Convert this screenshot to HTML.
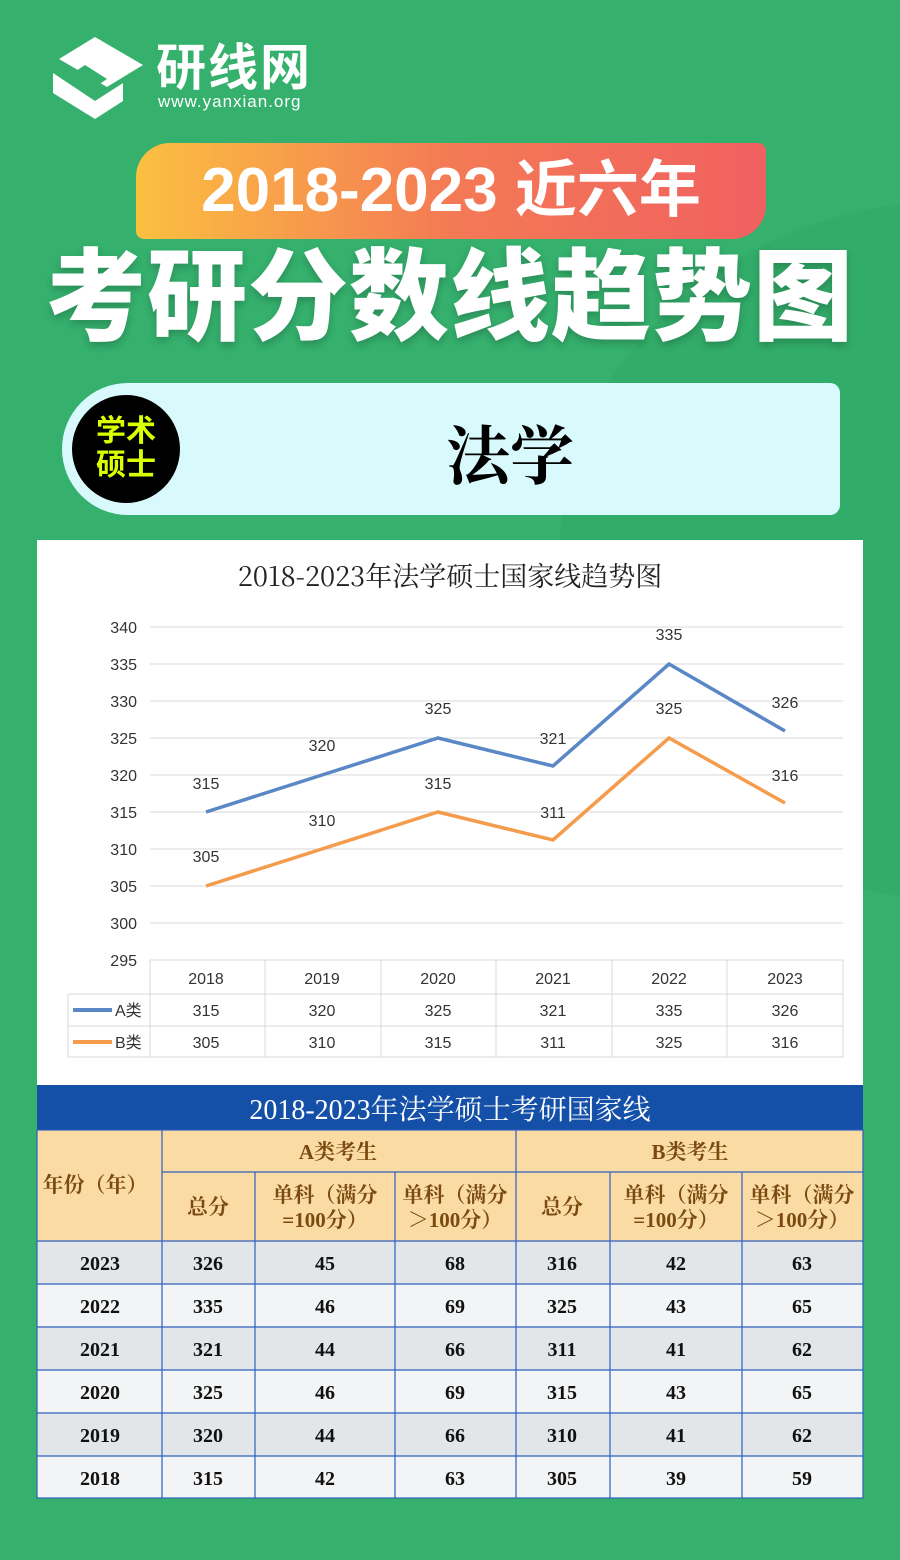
<!DOCTYPE html>
<html><head><meta charset="utf-8"><style>
body{margin:0;width:900px;height:1560px;background:#35b06d;position:relative;overflow:hidden;font-family:"Liberation Sans","Noto Sans CJK SC",sans-serif}
.abs{position:absolute}
</style></head><body>
<div class="abs" style="left:560px;top:200px;width:800px;height:700px;border-radius:50%;background:#2ea864;opacity:.45"></div>
<!-- logo -->
<svg class="abs" style="left:45px;top:35px" width="100" height="85" viewBox="0 0 100 85">
<polygon points="50,2 98,30 62,52 14,24" fill="#fff"/>
<polygon points="8,38 8,58 50,84 78,66 78,48 50,66" fill="#fff"/>
<polygon points="40,30 62,44 50,52 28,38" fill="#35b06d"/>
</svg>
<div class="abs" style="left:156px;top:38px;color:#fff;font-size:50px;font-weight:bold;letter-spacing:2px;line-height:60px">研线网</div>
<div class="abs" style="left:158px;top:92px;color:#fff;font-size:17px;letter-spacing:1px">www.yanxian.org</div>
<!-- orange banner -->
<div class="abs" style="left:136px;top:143px;width:630px;height:96px;border-radius:34px 8px 34px 8px;background:linear-gradient(90deg,#fbc040,#f47a55,#f06060)"></div>
<div class="abs" style="left:136px;top:143px;width:630px;height:96px;line-height:96px;text-align:center;color:#fff;font-size:62px;font-weight:bold">2018-2023 近六年</div>
<div class="abs" style="left:0;top:236px;width:900px;text-align:center;color:#fff;font-size:100px;font-weight:900;line-height:124px;letter-spacing:1px;text-shadow:0 4px 8px rgba(0,0,0,.2)">考研分数线趋势图</div>
<!-- subject bar -->
<div class="abs" style="left:62px;top:383px;width:778px;height:132px;background:#d9fafd;border-radius:66px 10px 10px 66px"></div>
<div class="abs" style="left:72px;top:395px;width:108px;height:108px;border-radius:50%;background:#000;color:#d9ff00;font-size:30px;font-weight:bold;line-height:34px;text-align:center;padding-top:20px;box-sizing:border-box">学术<br>硕士</div>
<div class="abs" style="left:300px;top:412px;width:420px;text-align:center;font-family:'Noto Serif CJK SC',serif;font-size:64px;font-weight:bold;line-height:80px;color:#000">法学</div>
<!-- chart -->
<svg class="abs" style="left:37px;top:540px" width="826" height="545" viewBox="37 540 826 545">
<rect x="37" y="540" width="826" height="545" fill="#fff"/>
<text x="450" y="586" text-anchor="middle" font-family="Noto Serif CJK SC,serif" font-size="27" fill="#222">2018-2023年法学硕士国家线趋势图</text>
<g stroke="#d9d9d9" stroke-width="1">
<line x1="150" x2="843" y1="627" y2="627"/><line x1="150" x2="843" y1="664" y2="664"/><line x1="150" x2="843" y1="701" y2="701"/><line x1="150" x2="843" y1="738" y2="738"/><line x1="150" x2="843" y1="775" y2="775"/><line x1="150" x2="843" y1="812" y2="812"/><line x1="150" x2="843" y1="849" y2="849"/><line x1="150" x2="843" y1="886" y2="886"/><line x1="150" x2="843" y1="923" y2="923"/>
<line x1="150" x2="843" y1="960" y2="960"/><line x1="68" x2="843" y1="994" y2="994"/><line x1="68" x2="843" y1="1026" y2="1026"/><line x1="68" x2="843" y1="1057" y2="1057"/>
<line x1="68" x2="68" y1="994" y2="1057"/><line x1="150" x2="150" y1="960" y2="1057"/><line x1="265" x2="265" y1="960" y2="1057"/><line x1="381" x2="381" y1="960" y2="1057"/><line x1="496" x2="496" y1="960" y2="1057"/><line x1="612" x2="612" y1="960" y2="1057"/><line x1="727" x2="727" y1="960" y2="1057"/><line x1="843" x2="843" y1="960" y2="1057"/>
</g>
<g font-size="16" fill="#333" text-anchor="end">
<text x="137" y="633">340</text><text x="137" y="670">335</text><text x="137" y="707">330</text><text x="137" y="744">325</text><text x="137" y="781">320</text><text x="137" y="818">315</text><text x="137" y="855">310</text><text x="137" y="892">305</text><text x="137" y="929">300</text><text x="137" y="966">295</text>
</g>
<polyline points="206,812 322,775 438,738 553,766 669,664 785,731" fill="none" stroke="#5a87c6" stroke-width="3.5"/>
<polyline points="206,886 322,849 438,812 553,840 669,738 785,803" fill="none" stroke="#f59b4c" stroke-width="3.5"/>
<g font-size="16" fill="#333" text-anchor="middle">
<text x="206" y="789">315</text><text x="322" y="751">320</text><text x="438" y="714">325</text><text x="553" y="744">321</text><text x="669" y="640">335</text><text x="785" y="708">326</text>
<text x="206" y="862">305</text><text x="322" y="826">310</text><text x="438" y="789">315</text><text x="553" y="818">311</text><text x="669" y="714">325</text><text x="785" y="781">316</text>
<text x="206" y="984">2018</text><text x="322" y="984">2019</text><text x="438" y="984">2020</text><text x="553" y="984">2021</text><text x="669" y="984">2022</text><text x="785" y="984">2023</text>
<text x="206" y="1016">315</text><text x="322" y="1016">320</text><text x="438" y="1016">325</text><text x="553" y="1016">321</text><text x="669" y="1016">335</text><text x="785" y="1016">326</text>
<text x="206" y="1048">305</text><text x="322" y="1048">310</text><text x="438" y="1048">315</text><text x="553" y="1048">311</text><text x="669" y="1048">325</text><text x="785" y="1048">316</text>
</g>
<line x1="73" x2="112" y1="1010" y2="1010" stroke="#5a87c6" stroke-width="4"/>
<line x1="73" x2="112" y1="1042" y2="1042" stroke="#f59b4c" stroke-width="4"/>
<text x="115" y="1016" font-size="16" fill="#333">A类</text>
<text x="115" y="1048" font-size="16" fill="#333">B类</text>
</svg>
<!-- table -->
<svg class="abs" style="left:0;top:1085px" width="900" height="420" viewBox="0 1085 900 420" font-family="Liberation Serif,Noto Serif CJK SC,serif">
<rect x="37" y="1085" width="826" height="45" fill="#1450a8"/>
<text x="450" y="1119" text-anchor="middle" font-size="28" fill="#fff">2018-2023年法学硕士考研国家线</text>
<rect x="37" y="1130" width="826" height="111" fill="#fbdba4"/>
<g fill="#e3e6e9"><rect x="37" y="1241" width="826" height="43"/><rect x="37" y="1327" width="826" height="43"/><rect x="37" y="1413" width="826" height="43"/></g>
<g fill="#f2f4f6"><rect x="37" y="1284" width="826" height="43"/><rect x="37" y="1370" width="826" height="43"/><rect x="37" y="1456" width="826" height="42"/></g>
<g stroke="#3060c0" stroke-width="1.2" fill="none">
<rect x="37" y="1130" width="826" height="368"/>
<line x1="162" x2="863" y1="1172" y2="1172"/>
<line x1="37" x2="863" y1="1241" y2="1241"/><line x1="37" x2="863" y1="1284" y2="1284"/><line x1="37" x2="863" y1="1327" y2="1327"/><line x1="37" x2="863" y1="1370" y2="1370"/><line x1="37" x2="863" y1="1413" y2="1413"/><line x1="37" x2="863" y1="1456" y2="1456"/>
<line x1="162" x2="162" y1="1130" y2="1498"/><line x1="516" x2="516" y1="1130" y2="1498"/>
<line x1="255" x2="255" y1="1172" y2="1498"/><line x1="395" x2="395" y1="1172" y2="1498"/><line x1="610" x2="610" y1="1172" y2="1498"/><line x1="742" x2="742" y1="1172" y2="1498"/>
</g>
<g fill="#7a4a10" font-size="21" text-anchor="middle" font-weight="bold">
<text x="95" y="1192">年份（年）</text>
<text x="338" y="1159">A类考生</text><text x="690" y="1159">B类考生</text>
<text x="208" y="1214">总分</text><text x="562" y="1214">总分</text>
<text x="325" y="1202">单科（满分</text><text x="325" y="1227">=100分）</text>
<text x="455" y="1202">单科（满分</text><text x="455" y="1227">＞100分）</text>
<text x="676" y="1202">单科（满分</text><text x="676" y="1227">=100分）</text>
<text x="802" y="1202">单科（满分</text><text x="802" y="1227">＞100分）</text>
</g>
<g fill="#111" font-size="20" text-anchor="middle" font-weight="bold">
<text x="100" y="1270">2023</text><text x="208" y="1270">326</text><text x="325" y="1270">45</text><text x="455" y="1270">68</text><text x="562" y="1270">316</text><text x="676" y="1270">42</text><text x="802" y="1270">63</text>
<text x="100" y="1313">2022</text><text x="208" y="1313">335</text><text x="325" y="1313">46</text><text x="455" y="1313">69</text><text x="562" y="1313">325</text><text x="676" y="1313">43</text><text x="802" y="1313">65</text>
<text x="100" y="1356">2021</text><text x="208" y="1356">321</text><text x="325" y="1356">44</text><text x="455" y="1356">66</text><text x="562" y="1356">311</text><text x="676" y="1356">41</text><text x="802" y="1356">62</text>
<text x="100" y="1399">2020</text><text x="208" y="1399">325</text><text x="325" y="1399">46</text><text x="455" y="1399">69</text><text x="562" y="1399">315</text><text x="676" y="1399">43</text><text x="802" y="1399">65</text>
<text x="100" y="1442">2019</text><text x="208" y="1442">320</text><text x="325" y="1442">44</text><text x="455" y="1442">66</text><text x="562" y="1442">310</text><text x="676" y="1442">41</text><text x="802" y="1442">62</text>
<text x="100" y="1485">2018</text><text x="208" y="1485">315</text><text x="325" y="1485">42</text><text x="455" y="1485">63</text><text x="562" y="1485">305</text><text x="676" y="1485">39</text><text x="802" y="1485">59</text>
</g>
</svg>
</body></html>
